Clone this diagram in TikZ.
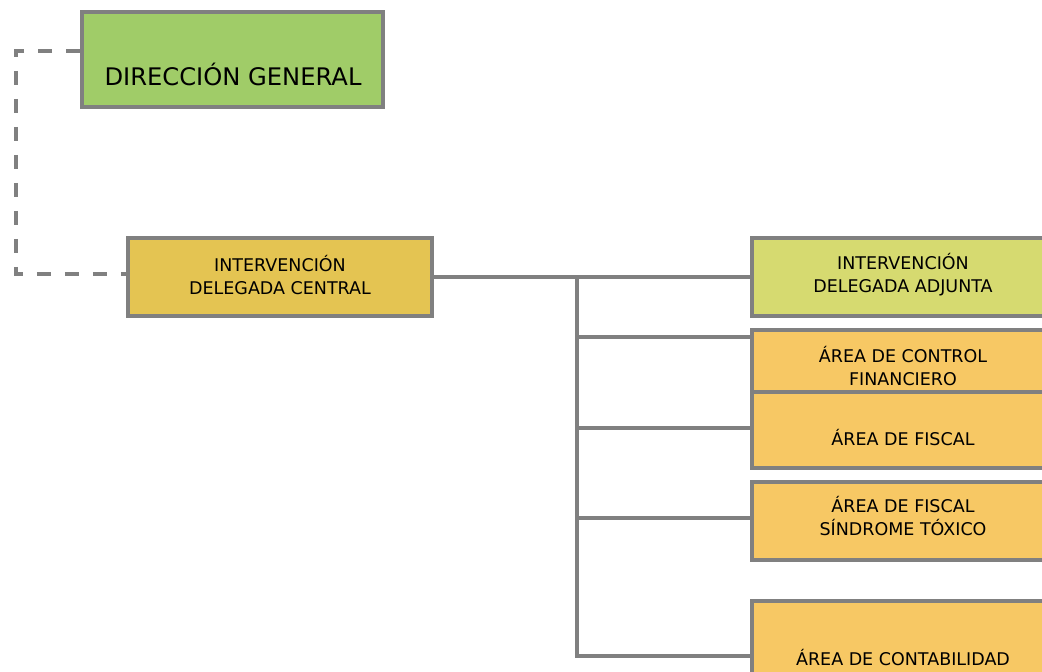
\documentclass[tikz,border=0pt]{standalone}
\usepackage{fontspec}
\setmainfont{DejaVu Sans}
\definecolor{lineg}{RGB}{128,128,128}
\definecolor{dgfill}{RGB}{160,204,104}
\definecolor{ctfill}{RGB}{228,196,82}
\definecolor{adfill}{RGB}{214,218,112}
\definecolor{orfill}{RGB}{247,200,100}
\tikzset{
  box/.style={draw=lineg, line width=3.8pt, rectangle, inner sep=0pt},
  bigtxt/.style={font=\fontsize{24.2}{28}\selectfont, inner sep=0pt, align=center},
  smalltxt/.style={font=\fontsize{17.5}{23}\selectfont, inner sep=0pt, align=center},
  link/.style={draw=lineg, line width=4pt},
  dlink/.style={draw=lineg, line width=4pt, dash pattern=on 14pt off 14pt},
}
\begin{document}
\begin{tikzpicture}[x=1pt,y=-1pt]
\useasboundingbox (0,0) rectangle (1042,672);
\clip (0,0) rectangle (1042,672);
% boxes
\node[box, fill=dgfill, minimum width=301pt, minimum height=95pt] (dg) at (232.5,59.5) {};
\node[bigtxt] (dgt) at (233,74) {DIRECCIÓN GENERAL};
\node[box, fill=ctfill, minimum width=304pt, minimum height=78pt] (ct) at (280,277) {};
\node[smalltxt] (ctt) at (280,275) {INTERVENCIÓN\\DELEGADA CENTRAL};
\node[box, fill=adfill, minimum width=302pt, minimum height=78pt] (ad) at (903,277) {};
\node[smalltxt] (adt) at (903,275) {INTERVENCIÓN\\DELEGADA ADJUNTA};
\node[box, fill=orfill, minimum width=302pt, minimum height=62pt] (cf) at (903,361) {};
\node[smalltxt] (cft) at (903,366) {ÁREA DE CONTROL\\FINANCIERO};
\node[box, fill=orfill, minimum width=302pt, minimum height=76pt] (fi) at (903,430) {};
\node[smalltxt] (fit) at (903,438) {ÁREA DE FISCAL};
\node[box, fill=orfill, minimum width=302pt, minimum height=78pt] (st) at (903,521) {};
\node[smalltxt] (stt) at (903,516) {ÁREA DE FISCAL\\SÍNDROME TÓXICO};
\node[box, fill=orfill, minimum width=302pt, minimum height=100pt] (co) at (903,651) {};
\node[smalltxt] (cot) at (903,658) {ÁREA DE CONTABILIDAD};
% connectors
\coordinate (trunk) at (577,277);
\draw[dlink] (dg.west |- 0,51) -- (16,51) -- (16,274) -- (ct.west |- 0,274);
\draw[link] (ct.east) -- (ad.west);
\draw[link] (trunk) -- (577,656) -- (co.west |- 0,656);
\draw[link] (577,337) -- (cf.west |- 0,337);
\draw[link] (577,428) -- (fi.west |- 0,428);
\draw[link] (577,518) -- (st.west |- 0,518);
\end{tikzpicture}
\end{document}
